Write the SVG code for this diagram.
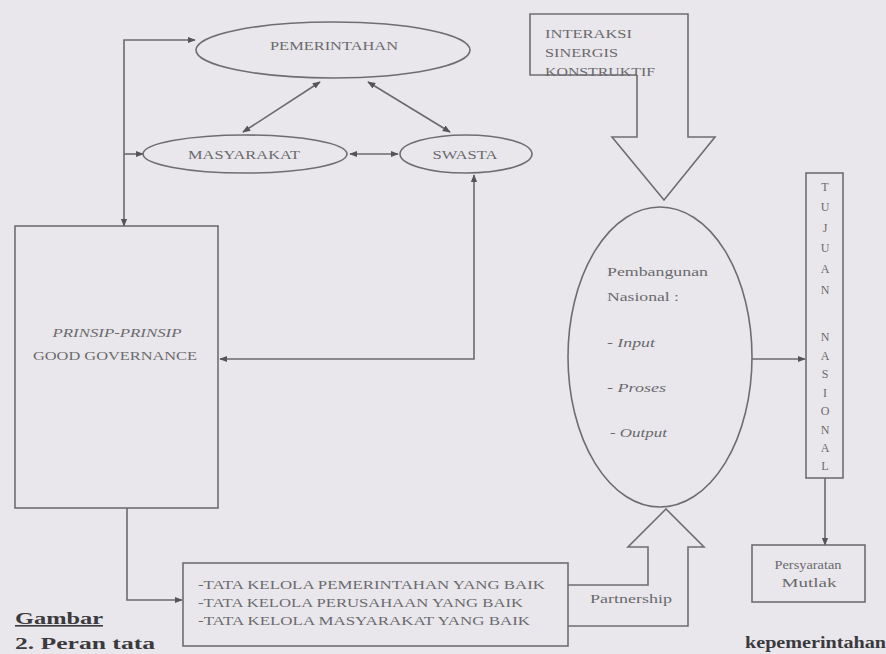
<svg xmlns="http://www.w3.org/2000/svg" width="886" height="654" viewBox="0 0 886 654">
<style>
.bg{fill:#e9e7eb}
.sh{fill:none;stroke:#6e6e72;stroke-width:1.6}
.ln{fill:none;stroke:#6a6a6e;stroke-width:1.6}
.t{font-family:"Liberation Serif","DejaVu Serif",serif;fill:#6a6a6e;font-size:12px}
.it{font-style:italic}
.cap{font-family:"Liberation Serif","DejaVu Serif",serif;fill:#3a3a3e;font-weight:bold;font-size:16px}
</style>
<defs>
<marker id="ah" viewBox="0 0 10 10" refX="9" refY="5" markerWidth="8" markerHeight="8" markerUnits="userSpaceOnUse" orient="auto-start-reverse">
<path d="M0,1 L10,5 L0,9 z" fill="#555559"/>
</marker>
</defs>
<rect class="bg" x="0" y="0" width="886" height="654"/>

<g id="connectors">
<line class="ln" x1="320" y1="82" x2="243" y2="132" marker-start="url(#ah)" marker-end="url(#ah)"/>
<line class="ln" x1="368" y1="82" x2="450" y2="132" marker-start="url(#ah)" marker-end="url(#ah)"/>
<line class="ln" x1="350" y1="154" x2="398" y2="154" marker-start="url(#ah)" marker-end="url(#ah)"/>
<polyline class="ln" points="195,40 124,40 124,226" marker-start="url(#ah)" marker-end="url(#ah)"/>
<line class="ln" x1="124" y1="154" x2="143" y2="154" marker-end="url(#ah)"/>
<polyline class="ln" points="474,175 474,359 220,359" marker-start="url(#ah)" marker-end="url(#ah)"/>
<polyline class="ln" points="127,508 127,600 182,600" marker-end="url(#ah)"/>
<line class="ln" x1="752" y1="359" x2="805" y2="359" marker-end="url(#ah)"/>
<line class="ln" x1="825" y1="478" x2="825" y2="545" marker-end="url(#ah)"/>
</g>

<g id="pemerintahan">
<ellipse class="sh" cx="333" cy="50" rx="137" ry="28"/>
<text class="t" x="334" y="50" text-anchor="middle" textLength="128" lengthAdjust="spacingAndGlyphs">PEMERINTAHAN</text>
</g>
<g id="masyarakat">
<ellipse class="sh" cx="245" cy="154" rx="102" ry="19"/>
<text class="t" x="244" y="159" text-anchor="middle" textLength="112" lengthAdjust="spacingAndGlyphs">MASYARAKAT</text>
</g>
<g id="swasta">
<ellipse class="sh" cx="466" cy="154" rx="66" ry="19"/>
<text class="t" x="465" y="159" text-anchor="middle" textLength="65" lengthAdjust="spacingAndGlyphs">SWASTA</text>
</g>

<g id="good-governance">
<rect class="sh" x="15" y="226" width="203" height="282"/>
<text class="t it" x="117" y="337" text-anchor="middle" textLength="129" lengthAdjust="spacingAndGlyphs">PRINSIP-PRINSIP</text>
<text class="t" x="115" y="360" text-anchor="middle" textLength="164" lengthAdjust="spacingAndGlyphs">GOOD GOVERNANCE</text>
</g>

<g id="tata-kelola">
<rect class="sh" x="183" y="563" width="385" height="83"/>
<text class="t" x="198" y="589" textLength="347" lengthAdjust="spacingAndGlyphs">-TATA KELOLA PEMERINTAHAN YANG BAIK</text>
<text class="t" x="198" y="607" textLength="325" lengthAdjust="spacingAndGlyphs">-TATA KELOLA PERUSAHAAN YANG BAIK</text>
<text class="t" x="198" y="625" textLength="332" lengthAdjust="spacingAndGlyphs">-TATA KELOLA MASYARAKAT YANG BAIK</text>
</g>

<g id="interaksi">
<polyline class="sh" points="637,75 530,75 530,14 688,14 688,137 715,137 664,200 612,137 637,137 637,75"/>
<text class="t" x="545" y="38" textLength="87" lengthAdjust="spacingAndGlyphs">INTERAKSI</text>
<text class="t" x="545" y="57" textLength="73" lengthAdjust="spacingAndGlyphs">SINERGIS</text>
<text class="t" x="545" y="76" textLength="110" lengthAdjust="spacingAndGlyphs">KONSTRUKTIF</text>
</g>

<g id="partnership">
<polyline class="sh" points="568,585 648,585 648,547 628,547 666,509 704,547 688,547 688,626 568,626"/>
<text class="t" x="590" y="603" font-size="14" textLength="82" lengthAdjust="spacingAndGlyphs">Partnership</text>
</g>

<g id="pembangunan">
<ellipse class="sh" cx="660" cy="357" rx="92" ry="150"/>
<text class="t" x="607" y="276" font-size="15" textLength="101" lengthAdjust="spacingAndGlyphs">Pembangunan</text>
<text class="t" x="607" y="301" font-size="15" textLength="72" lengthAdjust="spacingAndGlyphs">Nasional :</text>
<text class="t" x="607" y="347" font-size="15" textLength="48" lengthAdjust="spacingAndGlyphs">- <tspan class="it">Input</tspan></text>
<text class="t" x="607" y="392" font-size="15" textLength="59" lengthAdjust="spacingAndGlyphs">- <tspan class="it">Proses</tspan></text>
<text class="t" x="610" y="437" font-size="15" textLength="57" lengthAdjust="spacingAndGlyphs">- <tspan class="it">Output</tspan></text>
</g>

<g id="tujuan-nasional">
<rect class="sh" x="806" y="173" width="37" height="305"/>
<g class="t" text-anchor="middle" font-size="11">
<text x="825" y="191">T</text>
<text x="825" y="211">U</text>
<text x="825" y="232">J</text>
<text x="825" y="252">U</text>
<text x="825" y="273">A</text>
<text x="825" y="294">N</text>
<text x="825" y="341">N</text>
<text x="825" y="360">A</text>
<text x="825" y="378">S</text>
<text x="825" y="397">I</text>
<text x="825" y="415">O</text>
<text x="825" y="434">N</text>
<text x="825" y="452">A</text>
<text x="825" y="470">L</text>
</g>
</g>

<g id="persyaratan">
<rect class="sh" x="752" y="545" width="113" height="57"/>
<text class="t" x="808" y="569" text-anchor="middle" font-size="11" textLength="67" lengthAdjust="spacingAndGlyphs">Persyaratan</text>
<text class="t" x="809" y="587" text-anchor="middle" font-size="11" textLength="55" lengthAdjust="spacingAndGlyphs">Mutlak</text>
</g>

<g id="caption">
<text class="cap" x="15" y="624" text-decoration="underline" textLength="88" lengthAdjust="spacingAndGlyphs">Gambar</text>
<text class="cap" x="15" y="649" font-size="16" textLength="140" lengthAdjust="spacingAndGlyphs">2. Peran  tata</text>
<text class="cap" x="745" y="648" font-size="15" textLength="141" lengthAdjust="spacingAndGlyphs">kepemerintahan</text>
</g>
</svg>
